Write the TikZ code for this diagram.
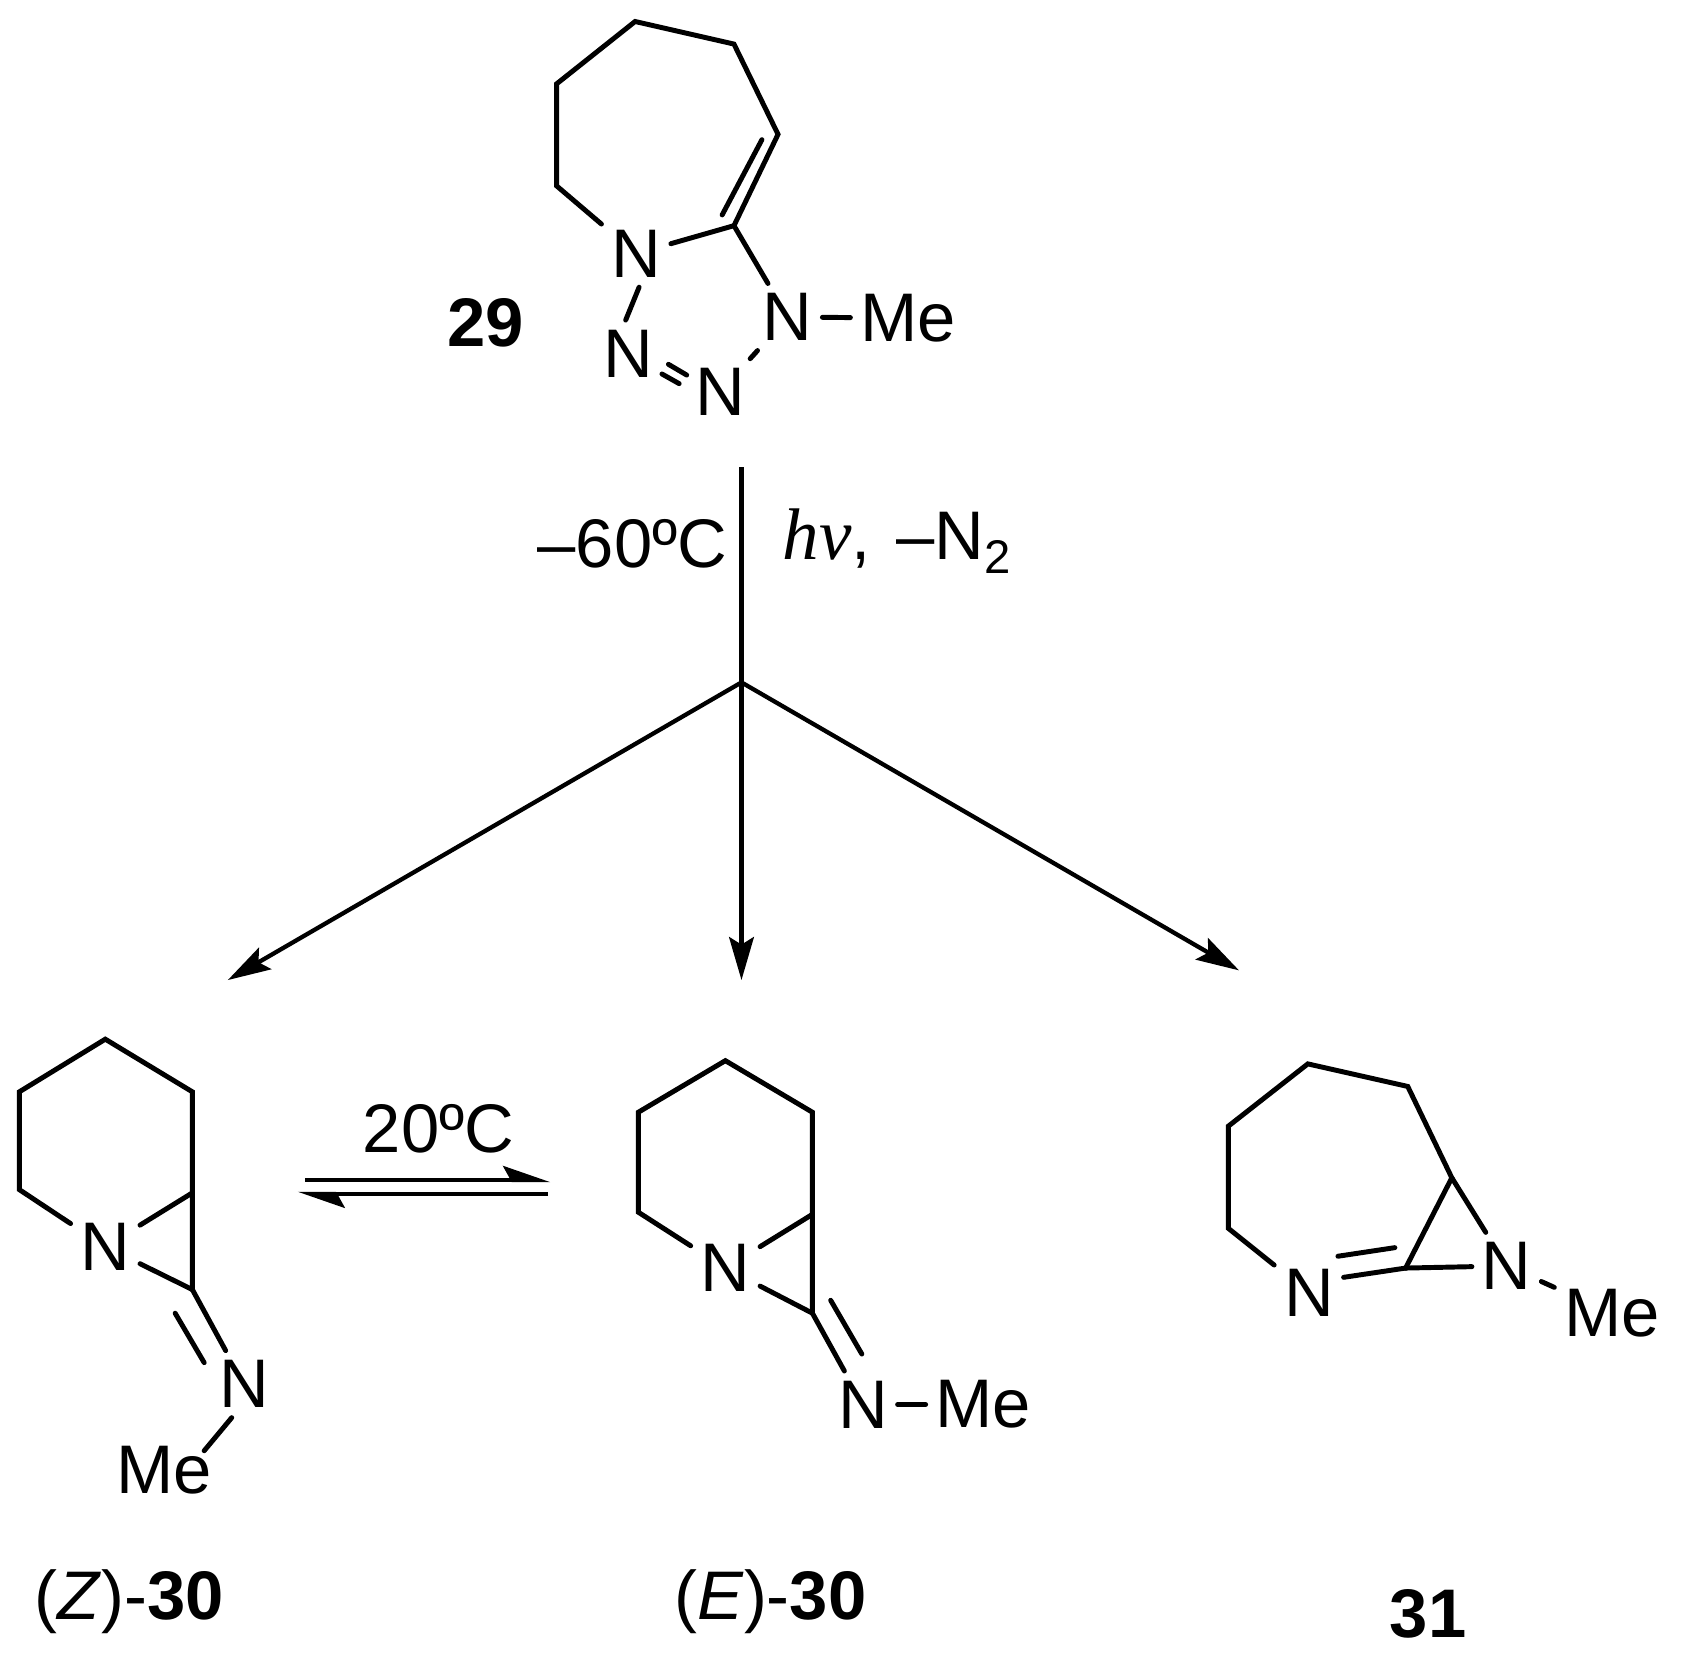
\documentclass[tikz,border=0pt]{standalone}
\usepackage{fontspec}
\setmainfont{Liberation Sans}
\newfontfamily\hvfont{Liberation Serif}
\usetikzlibrary{arrows.meta}
\begin{document}
\begin{tikzpicture}[x=1pt,y=-1pt]
        \tikzset{atom/.style={font=\fontsize{64}{76}\selectfont,inner sep=9pt},
            cpd/.style={font=\fontsize{64}{76}\selectfont,inner sep=0pt},
            cond/.style={font=\fontsize{64}{76}\selectfont,inner sep=0pt,anchor=base west},
            bond/.style={draw,line width=4.6pt,line cap=round,line join=miter},
            rxn/.style={draw,line width=4pt,-{Stealth[length=40pt,width=23pt,inset=7pt]}},
            rxntop/.style={draw,line width=4pt}}
        \useasboundingbox (0,0) rectangle (1568,1543);
        \coordinate (a1) at (591,20);
        \coordinate (a2) at (683,41);
        \coordinate (a3) at (724,125);
        \coordinate (a4) at (683,210);
        \coordinate (a5) at (518,173);
        \coordinate (a6) at (518,78);
        \coordinate (a7) at (709,130);
        \coordinate (a8) at (672,200);
        \coordinate (a9) at (622,339);
        \coordinate (a10) at (639,349);
        \coordinate (a11) at (616,348);
        \coordinate (a12) at (632,357);
        \node[atom] (Na) at (592,236) {N};
        \node[atom] (Nb) at (585,329) {N};
        \node[atom] (Nc) at (670,365) {N};
        \node[atom] (Nd) at (733,295) {N};
        \node[atom] (Mea) at (845,296) {Me};
        \node[cpd,font=\fontsize{64}{76}\selectfont\bfseries] (cpda) at (452,300) {29};
        \draw[bond] (Na) -- (a5) -- (a6) -- (a1) -- (a2) -- (a3) -- (a4) -- (Nd);
        \draw[bond] (a4) -- (Na);
        \draw[bond] (a7) -- (a8);
        \draw[bond] (Na.-85) -- (Nb.95);
        \draw[bond] (a9) -- (a10);
        \draw[bond] (a11) -- (a12);
        \draw[bond] (Nc) -- (Nd);
        \draw[bond] (Nd) -- (Mea);
        \coordinate (top) at (690,435);
        \coordinate (fork) at (690,635);
        \coordinate (leftend) at (212,912);
        \coordinate (midend) at (690,912);
        \coordinate (rightend) at (1153,903);
        \draw[rxntop] (top) -- (fork);
        \draw[rxn] (fork) -- (leftend);
        \draw[rxn] (fork) -- (midend);
        \draw[rxn] (fork) -- (rightend);
        \node[cond] (cold) at (500,528) {–60ºC};
        \node[cond] (light) at (728,521) {{\hvfont\itshape\fontsize{68}{76}\selectfont hν}, \kern6pt–N\raisebox{-13pt}{\fontsize{44}{44}\selectfont 2}};
        \coordinate (b1) at (98,967);
        \coordinate (b2) at (179,1016);
        \coordinate (b3) at (179,1110);
        \coordinate (b4) at (179,1200);
        \coordinate (b5) at (18,1016);
        \coordinate (b6) at (18,1107);
        \coordinate (b7) at (163,1222);
        \coordinate (b8) at (190,1268);
        \coordinate (b9) at (190,1350);
        \node[atom] (Ne) at (98,1160) {N};
        \node[atom] (Nf) at (227,1288) {N};
        \node[atom] (Meb) at (153,1368) {Me};
        \node[cpd] (cpdb) at (120,1490) {(\textit{Z})-\textbf{30}};
        \draw[bond] (Ne) -- (b6) -- (b5) -- (b1) -- (b2) -- (b3) -- (b4);
        \draw[bond] (Ne) -- (b3);
        \draw[bond] (Ne) -- (b4);
        \draw[bond] (b4) -- (Nf);
        \draw[bond] (b7) -- (b8);
        \draw[bond] (Nf.-110) -- (b9);
        \coordinate (eqa) at (284,1098);
        \coordinate (eqb) at (512,1103);
        \coordinate (eqc) at (510,1111);
        \coordinate (eqd) at (277,1106);
        \draw[rxntop,-{Stealth[left,length=38pt,width=26pt,inset=7pt]}] (eqa) -- (eqa -| eqb);
        \draw[rxntop,-{Stealth[left,length=38pt,width=26pt,inset=7pt]}] (eqc) -- (eqc -| eqd);
        \node[cpd] (warm) at (408,1050) {20ºC};
        \coordinate (c1) at (675,987);
        \coordinate (c2) at (756,1035);
        \coordinate (c3) at (756,1130);
        \coordinate (c4) at (756,1222);
        \coordinate (c5) at (594,1035);
        \coordinate (c6) at (594,1128);
        \coordinate (c7) at (773,1210);
        \coordinate (c8) at (802,1260);
        \node[atom] (Ng) at (675,1180) {N};
        \node[atom] (Nh) at (803,1307) {N};
        \node[atom] (Mec) at (915,1307) {Me};
        \node[cpd] (cpdc) at (717,1490) {(\textit{E})-\textbf{30}};
        \draw[bond] (Ng) -- (c6) -- (c5) -- (c1) -- (c2) -- (c3) -- (c4);
        \draw[bond] (Ng) -- (c3);
        \draw[bond] (Ng) -- (c4);
        \draw[bond] (c4) -- (Nh);
        \draw[bond] (c7) -- (c8);
        \draw[bond] (Nh) -- (Mec);
        \coordinate (d1) at (1217,990);
        \coordinate (d2) at (1310,1011);
        \coordinate (d3) at (1351,1096);
        \coordinate (d4) at (1308,1180);
        \coordinate (d5) at (1143,1048);
        \coordinate (d6) at (1143,1143);
        \coordinate (d7) at (1245,1169);
        \coordinate (d8) at (1298,1161);
        \node[atom] (Ni) at (1218,1203) {N};
        \node[atom] (Nj) at (1402,1178) {N};
        \node[atom] (Med) at (1500,1222) {Me};
        \node[cpd,font=\fontsize{64}{76}\selectfont\bfseries] (cpdd) at (1329,1502) {31};
        \draw[bond] (Ni) -- (d6) -- (d5) -- (d1) -- (d2) -- (d3) -- (d4);
        \draw[bond] (d3) -- (Nj);
        \draw[bond] (d4) -- (Nj);
        \draw[bond] (d4) -- (Ni.24);
        \draw[bond] (d7) -- (d8);
        \draw[bond] (Nj) -- (Med);
    \end{tikzpicture}
\end{document}
